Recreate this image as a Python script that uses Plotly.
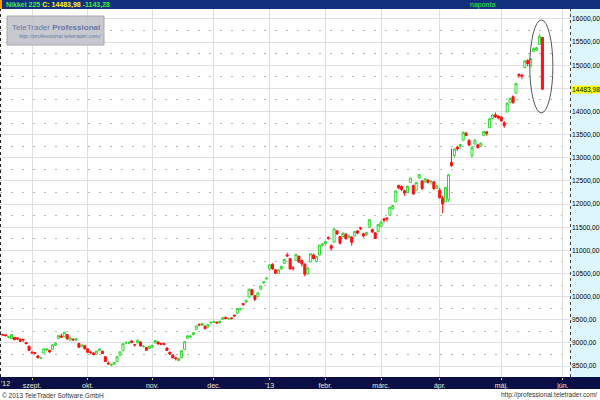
import plotly.graph_objects as go
import pandas as pd

# ---------------- data ----------------
holidays = ['2012-09-17', '2012-10-08', '2012-11-23', '2012-12-24', '2012-12-31',
            '2013-01-01', '2013-01-02', '2013-01-03', '2013-01-14', '2013-02-11',
            '2013-03-20', '2013-04-29', '2013-05-03', '2013-05-06']
dates = [d.strftime('%Y-%m-%d') for d in pd.bdate_range('2012-08-20', '2013-05-23')
         if d.strftime('%Y-%m-%d') not in holidays]

opens = [9180, 9175, 9120, 9090, 9120, 9110, 9080, 9075, 9010, 8930,
         8800, 8790, 8720, 8670, 8780, 8850, 8840, 8860, 8950, 9100, 9150, 9130, 9180, 9060, 9080, 9060, 8990, 8930, 8940,
         8870, 8800, 8780, 8760, 8840, 8820, 8700, 8560, 8520, 8540, 8600, 8730, 8830, 9000, 8990, 9040, 8960, 9000, 9020, 8920, 8900, 8880,
         8910, 9000, 9020, 8990, 8990, 8890, 8800, 8740, 8680, 8620, 8680, 8860, 9100, 9130, 9180, 9290, 9400, 9380, 9360, 9340, 9430,
         9440, 9450, 9440, 9510, 9550, 9520, 9540, 9600, 9640, 9720, 9850, 9880, 9990, 10150, 10020, 10000, 10160, 10300, 10380,
         10600, 10700, 10580, 10500, 10600, 10720, 10900, 10820, 10620, 10780, 10870, 10780, 10700, 10500, 10750, 10900, 10760, 10900, 11110,
         11150, 11280, 11100, 11180, 11420, 11300, 11300, 11350, 11280, 11290, 11310, 11420, 11490, 11360, 11330, 11500, 11450, 11380, 11410,
         11520, 11680, 11700, 11760, 11900, 12050, 12400, 12380, 12290, 12250, 12470, 12400, 12300, 12560, 12500, 12480, 12520, 12480, 12480, 12340,
         12300, 12130, 12050, 12100, 12900, 13050, 13230, 13250, 13380, 13530, 13380, 13050, 13300, 13280, 13250, 13480, 13560, 13650, 13850, 13930, 13900,
         13880, 13760, 13990, 14200, 14320, 14400, 14800, 14790, 14950, 15100, 14980, 15300, 15330, 15450, 15600]
highs = [9200, 9190, 9145, 9190, 9130, 9115, 9090, 9090, 9020, 8940,
         8820, 8800, 8730, 8700, 8880, 8880, 8850, 8970, 9010, 9170, 9200, 9240, 9190, 9120, 9100, 9110, 9000, 8960, 8950,
         8880, 8830, 8800, 8830, 8880, 8830, 8710, 8600, 8560, 8590, 8710, 8810, 8990, 9030, 9030, 9060, 8980, 9070, 9030, 8950, 8910, 8940,
         8960, 9060, 9030, 9000, 9000, 8900, 8810, 8750, 8690, 8680, 8840, 9040, 9160, 9170, 9230, 9370, 9420, 9430, 9380, 9410, 9450,
         9480, 9460, 9480, 9560, 9570, 9540, 9550, 9610, 9750, 9750, 9860, 9930, 10170, 10170, 10030, 10090, 10240, 10330, 10430,
         10700, 10720, 10600, 10600, 10670, 10820, 10950, 10830, 10660, 10920, 10890, 10800, 10720, 10640, 10940, 10930, 10880, 11120, 11160,
         11210, 11300, 11130, 11480, 11440, 11310, 11400, 11370, 11340, 11300, 11420, 11440, 11510, 11380, 11400, 11670, 11470, 11390, 11560,
         11650, 11700, 11710, 11940, 11980, 12290, 12420, 12400, 12300, 12400, 12570, 12420, 12480, 12650, 12510, 12560, 12530, 12500, 12490, 12420,
         12350, 12180, 12370, 12650, 13200, 13200, 13260, 13300, 13570, 13560, 13400, 13260, 13400, 13300, 13330, 13580, 13580, 13850, 13950, 13980, 13910,
         13900, 13790, 14200, 14300, 14350, 14620, 14830, 14800, 15110, 15130, 15160, 15390, 15400, 15680, 15610]
lows = [9150, 9140, 9100, 9080, 9060, 9060, 9020, 9020, 8970, 8830,
        8770, 8760, 8670, 8650, 8770, 8820, 8780, 8850, 8940, 9090, 9110, 9120, 9070, 9050, 9040, 9050, 8890, 8900, 8860,
        8780, 8770, 8730, 8750, 8820, 8760, 8590, 8530, 8500, 8520, 8590, 8720, 8820, 8980, 8970, 8990, 8920, 8990, 8920, 8900, 8830, 8870,
        8890, 8990, 8960, 8950, 8950, 8830, 8740, 8670, 8620, 8600, 8670, 8850, 9090, 9110, 9160, 9280, 9360, 9370, 9290, 9330, 9410,
        9430, 9410, 9410, 9500, 9510, 9500, 9510, 9570, 9630, 9700, 9800, 9870, 9980, 10030, 9900, 9990, 10150, 10270, 10370,
        10560, 10580, 10480, 10490, 10580, 10700, 10860, 10580, 10560, 10770, 10730, 10650, 10440, 10470, 10740, 10800, 10740, 10890, 11090,
        11100, 11230, 10990, 11170, 11330, 11130, 11280, 11230, 11270, 11100, 11300, 11350, 11440, 11280, 11320, 11490, 11370, 11250, 11400,
        11500, 11600, 11620, 11750, 11880, 12040, 12320, 12280, 12180, 12240, 12460, 12200, 12290, 12550, 12300, 12460, 12440, 12420, 12300, 12320,
        12120, 11800, 12040, 12050, 12800, 13000, 13150, 13200, 13370, 13470, 13250, 13000, 13280, 13200, 13240, 13470, 13480, 13640, 13830, 13860, 13830,
        13780, 13650, 13980, 14180, 14170, 14390, 14730, 14700, 14930, 14980, 14960, 15280, 15310, 15440, 14470]
closes = [9171, 9156, 9131, 9178, 9070, 9085, 9033, 9068, 8983, 8839,
          8783, 8775, 8679, 8680, 8871, 8869, 8807, 8959, 8995, 9159, 9123, 9232, 9086, 9110, 9069, 9091, 8906, 8949, 8870,
          8796, 8786, 8746, 8824, 8863, 8769, 8596, 8546, 8534, 8577, 8701, 8806, 8982, 9002, 9010, 9014, 8954, 9056, 8933, 8929, 8841, 8928,
          8946, 9051, 8975, 8973, 8964, 8837, 8757, 8676, 8661, 8664, 8830, 9024, 9153, 9142, 9222, 9366, 9388, 9423, 9308, 9400, 9446,
          9458, 9432, 9468, 9545, 9527, 9533, 9525, 9581, 9742, 9737, 9828, 9923, 10160, 10039, 9940, 10080, 10230, 10322, 10395,
          10688, 10599, 10508, 10578, 10652, 10801, 10879, 10600, 10610, 10913, 10747, 10709, 10486, 10620, 10926, 10824, 10866, 11113, 11138,
          11191, 11260, 11046, 11463, 11357, 11153, 11369, 11251, 11307, 11173, 11407, 11372, 11468, 11309, 11385, 11662, 11399, 11254, 11559,
          11606, 11652, 11683, 11932, 11968, 12283, 12349, 12314, 12239, 12381, 12560, 12220, 12468, 12635, 12338, 12546, 12471, 12493, 12336, 12397,
          12135, 12003, 12362, 12634, 12833, 13192, 13192, 13288, 13549, 13485, 13275, 13221, 13382, 13220, 13316, 13568, 13529, 13843, 13926, 13884, 13860,
          13799, 13694, 14180, 14285, 14191, 14607, 14782, 14758, 15096, 15037, 15138, 15360, 15381, 15627.26, 14483.98]

month_ticks = ['2012-09-03', '2012-10-01', '2012-11-01', '2012-12-03', '2013-01-04',
               '2013-02-01', '2013-03-01', '2013-04-01', '2013-05-01', '2013-06-03']
month_labels = ['szept.', 'okt.', 'nov.', 'dec.', "'13", 'febr.', 'márc.', 'ápr.', 'máj.', 'jún.']

y_ticks = [8500, 9000, 9500, 10000, 10500, 11000, 11500, 12000, 12500, 13000, 13500, 14000, 14500, 15000, 15500, 16000]
y_labels = ['8500,00', '9000,00', '9500,00', '10000,00', '10500,00', '11000,00', '11500,00', '12000,00',
            '12500,00', '13000,00', '13500,00', '14000,00', '', '15000,00', '15500,00', '16000,00']
y_minor = [8750, 9250, 9750, 10250, 10750, 11250, 11750, 12250, 12750, 13250, 13750, 14250, 14750, 15250, 15750]

last_price = 14483.98
last_label = '14483,98'

FONT = 'Liberation Sans, Arial, sans-serif'

# pixel helpers for paper coordinates (plot area: x 0..570, y 9..377)
def px(x):
    return x / 570.0

def py(y):
    return (377.0 - y) / 368.0

fig = go.Figure(go.Candlestick(
    x=dates, open=opens, high=highs, low=lows, close=closes,
    increasing=dict(line=dict(color='#2ed82e', width=1), fillcolor='#ffffff'),
    decreasing=dict(line=dict(color='#ff1010', width=1), fillcolor='#ff1010'),
    whiskerwidth=0, showlegend=False, hoverinfo='skip'))

fig.update_layout(
    width=600, height=400,
    margin=dict(l=0, r=30, t=9, b=23),
    paper_bgcolor='#ffffff', plot_bgcolor='#ffffff',
    font=dict(family=FONT, size=7, color='#000000'),
    showlegend=False,
    boxgap=0.0,
    xaxis=dict(
        type='date',
        rangeslider=dict(visible=False),
        rangebreaks=[dict(bounds=['sat', 'mon']), dict(values=holidays)],
        range=['2012-08-17 02:00', '2013-06-05 10:00'],
        tickvals=month_ticks, ticktext=month_labels,
        ticks='outside', ticklen=2, tickcolor='#d8d070',
        tickfont=dict(family=FONT, size=7, color='#ecead2'),
        showgrid=True, gridcolor='#dedede', gridwidth=1,
        showline=False, zeroline=False, fixedrange=True, automargin=False),
    yaxis=dict(
        side='right', range=[8263, 16216],
        tickvals=y_ticks, ticktext=y_labels,
        ticks='', ticklabelstandoff=1,
        tickfont=dict(family=FONT, size=6.7, color='#000000'),
        showgrid=True, gridcolor='#e0e0e0', gridwidth=1,
        minor=dict(tickvals=y_minor, showgrid=True, gridcolor='#b4b4b4',
                   griddash='2px,9px', ticks=''),
        showline=False, zeroline=False, fixedrange=True, automargin=False),
)

shapes = [
    # header band
    dict(type='rect', xref='paper', yref='paper', x0=0, x1=px(600), y0=py(9), y1=py(0),
         fillcolor='#12307e', line=dict(width=0), layer='below'),
    dict(type='rect', xref='paper', yref='paper', x0=0, x1=px(2), y0=py(9), y1=py(0),
         fillcolor='#ff9900', line=dict(width=0), layer='below'),
    # bottom axis band
    dict(type='rect', xref='paper', yref='paper', x0=0, x1=px(600), y0=py(389), y1=py(377),
         fillcolor='#0b0f45', line=dict(width=0), layer='below'),
    # right value panel
    dict(type='rect', xref='paper', yref='paper', x0=px(570), x1=px(600), y0=py(377), y1=py(9),
         fillcolor='#dcf6fc', line=dict(width=0), layer='below'),
    dict(type='line', xref='paper', yref='paper', x0=px(570.5), x1=px(570.5), y0=py(377), y1=py(9),
         line=dict(color='#444444', width=1, dash='dot')),
    dict(type='line', xref='paper', yref='paper', x0=px(0.5), x1=px(0.5), y0=py(377), y1=py(9),
         line=dict(color='#222222', width=1, dash='dot')),
    # watermark box
    dict(type='rect', xref='paper', yref='paper', x0=px(7), x1=px(104), y0=py(45), y1=py(16),
         fillcolor='rgba(192,192,200,0.88)', line=dict(color='rgba(160,160,170,0.9)', width=1), layer='above'),
    # ellipse highlighting last sessions
    dict(type='circle', xref='x', yref='y', x0='2013-05-16 17:00', x1='2013-05-28 14:00',
         y0=13970, y1=15980, line=dict(color='#555555', width=1)),
]
fig.update_layout(shapes=shapes)

annotations = [
    dict(xref='paper', yref='paper', x=px(4), y=py(4.5), xanchor='left', yanchor='middle', showarrow=False,
         text='<b><span style="color:#3cf03c">Nikkei 225 </span><span style="color:#ffff00">C: 14483,98 </span>'
              '<span style="color:#3cf03c">-1143,28</span></b>',
         font=dict(family=FONT, size=7)),
    dict(xref='paper', yref='paper', x=px(482), y=py(4.5), xanchor='center', yanchor='middle', showarrow=False,
         text='naponta', font=dict(family=FONT, size=7, color='#3cf03c')),
    dict(xref='paper', yref='paper', x=px(5), y=py(383), xanchor='center', yanchor='middle', showarrow=False,
         text="'12", font=dict(family=FONT, size=7, color='#ecead2')),
    dict(xref='paper', yref='y', x=px(571.5), y=last_price, xanchor='left', yanchor='middle', showarrow=False,
         text=last_label, bgcolor='#ffff00', borderpad=0, font=dict(family=FONT, size=6.7, color='#000000')),
    dict(xref='paper', yref='paper', x=px(55.5), y=py(27), xanchor='center', yanchor='middle', showarrow=False,
         text='TeleTrader <b>Professional</b>', font=dict(family=FONT, size=8, color='#6678a8')),
    dict(xref='paper', yref='paper', x=px(60), y=py(35.5), xanchor='center', yanchor='middle', showarrow=False,
         text='<i>http://professional.teletrader.com/</i>', font=dict(family=FONT, size=5.5, color='#6678a8')),
    dict(xref='paper', yref='paper', x=px(0), y=py(395), xanchor='left', yanchor='middle', showarrow=False,
         text='© 2013 TeleTrader Software GmbH', font=dict(family=FONT, size=6.5, color='#333333')),
    dict(xref='paper', yref='paper', x=px(599), y=py(395), xanchor='right', yanchor='middle', showarrow=False,
         text='http://professional.teletrader.com/', font=dict(family=FONT, size=6.5, color='#333333')),
]
fig.update_layout(annotations=annotations)

fig.write_html('out.html', config={'displayModeBar': False},
               post_script="document.body.style.margin='0';document.body.style.overflow='hidden';")
